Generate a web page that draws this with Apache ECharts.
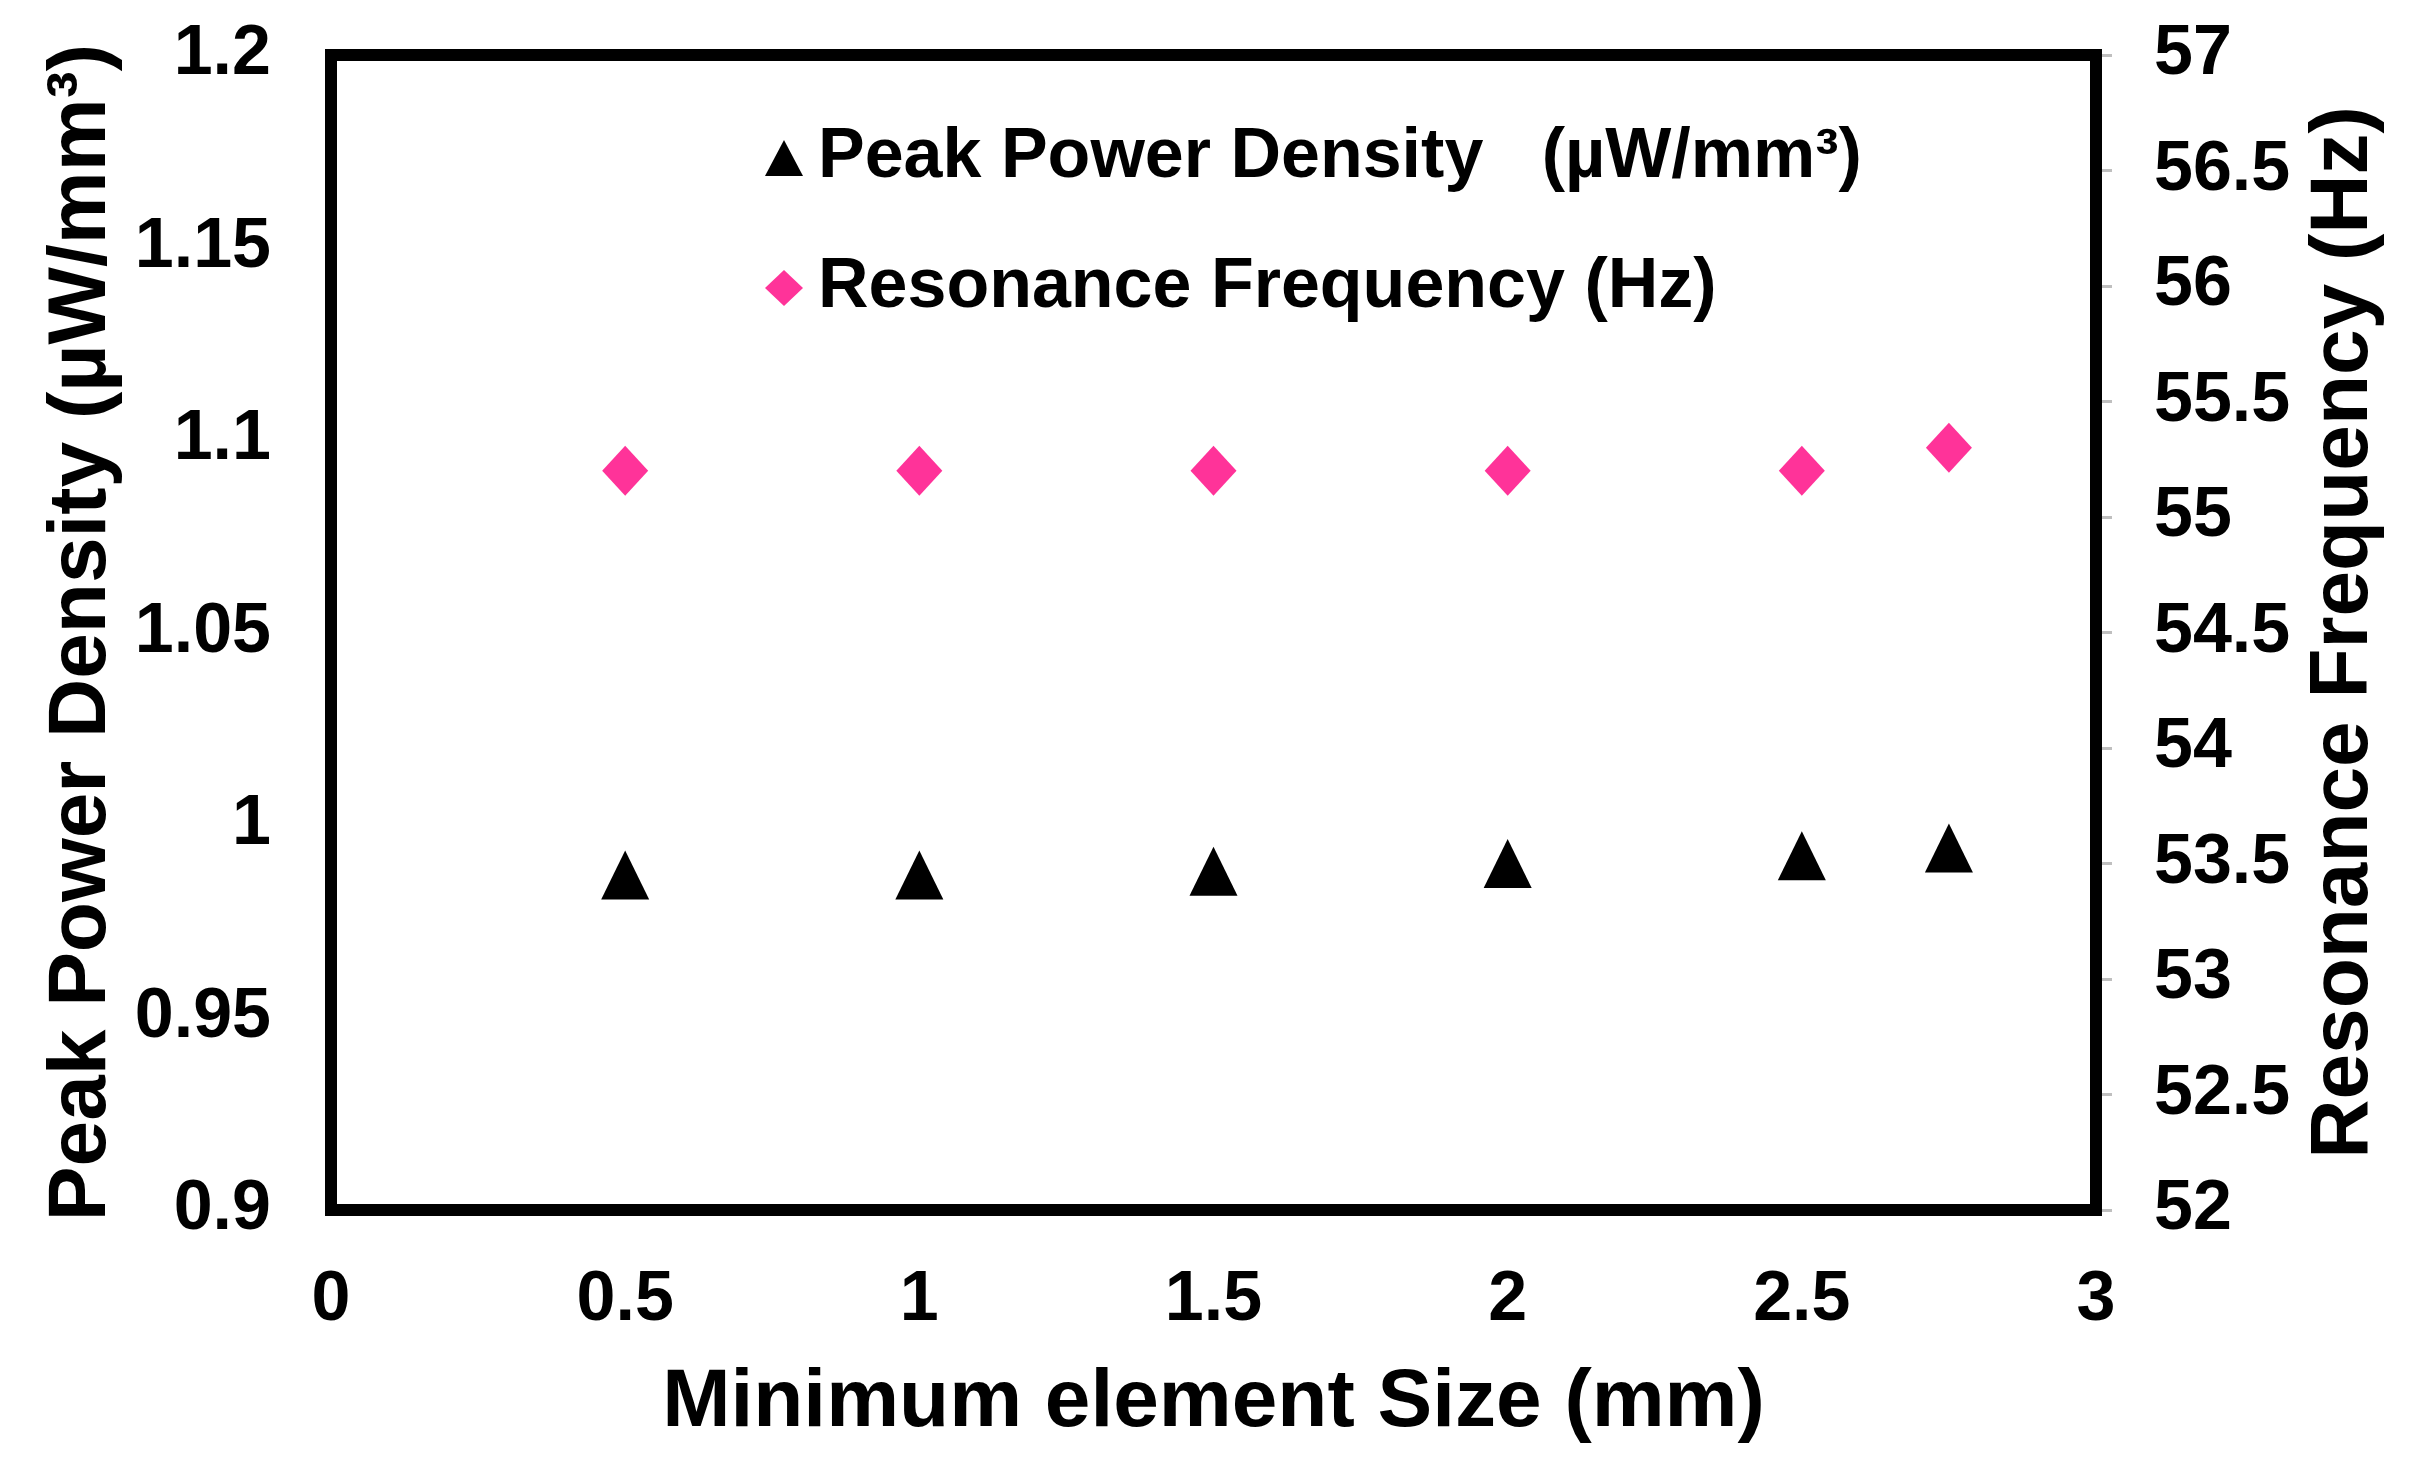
<!DOCTYPE html>
<html>
<head>
<meta charset="utf-8">
<script src="https://cdn.jsdelivr.net/npm/echarts@6/dist/echarts.min.js"></script>
<style>
html,body{margin:0;padding:0;background:#fff;}
#chart{width:2419px;height:1462px;}
</style>
</head>
<body>
<div id="chart"></div>
<script>
// ---- data ----
const xValues = [0.5, 1, 1.5, 2, 2.5, 2.75];
const powerDensity = [0.987, 0.987, 0.988, 0.990, 0.992, 0.994];
const resonanceFreq = [55.2, 55.2, 55.2, 55.2, 55.2, 55.3];
const seriesNames = ['Peak Power Density   (µW/mm³)', 'Resonance Frequency (Hz)'];
const xAxisTitle = 'Minimum element Size (mm)';
const leftAxisTitle = 'Peak Power Density (µW/mm³)';
const rightAxisTitle = 'Resonance Frequency (Hz)';

const FONT = "'Liberation Sans', Arial, Helvetica, sans-serif";
const chart = echarts.init(document.getElementById('chart'), null, {renderer: 'canvas'});

const pdData = xValues.map((x, i) => [x, powerDensity[i]]);
const rfData = xValues.map((x, i) => [x, resonanceFreq[i]]);

chart.setOption({
  backgroundColor: '#ffffff',
  animation: false,
  textStyle: {fontFamily: FONT},
  grid: {
    left: 331, right: 323, top: 55, bottom: 252,
    show: true, borderColor: '#000', borderWidth: 12, backgroundColor: 'transparent', z: 5
  },
  legend: {
    orient: 'vertical',
    left: 760, top: 118,
    itemWidth: 38, itemHeight: 36,
    itemGap: 60,
    itemStyle: {opacity: 1},
    textStyle: {fontFamily: FONT, fontWeight: 'bold', fontSize: 70, color: '#000', padding: [0, 0, 0, 10]},
    data: [
      {name: seriesNames[0], icon: 'triangle'},
      {name: seriesNames[1], icon: 'diamond'}
    ]
  },
  xAxis: {
    type: 'value', min: 0, max: 3, interval: 0.5,
    name: xAxisTitle, nameLocation: 'middle', nameGap: 152,
    nameTextStyle: {fontFamily: FONT, fontWeight: 'bold', fontSize: 82, color: '#000'},
    axisLine: {show: false}, axisTick: {show: false}, splitLine: {show: false},
    axisLabel: {fontFamily: FONT, fontWeight: 'bold', fontSize: 70, color: '#000', margin: 56}
  },
  yAxis: [
    {
      type: 'value', min: 0.9, max: 1.2, interval: 0.05, position: 'left',
      name: leftAxisTitle, nameLocation: 'middle', nameGap: 200, nameRotate: 90,
      nameTextStyle: {fontFamily: FONT, fontWeight: 'bold', fontSize: 82, color: '#000'},
      axisLine: {show: false}, axisTick: {show: false}, splitLine: {show: false},
      axisLabel: {fontFamily: FONT, fontWeight: 'bold', fontSize: 70, color: '#000', margin: 60}
    },
    {
      type: 'value', min: 52, max: 57, interval: 0.5, position: 'right',
      name: rightAxisTitle, nameLocation: 'middle', nameGap: 207, nameRotate: 90,
      nameTextStyle: {fontFamily: FONT, fontWeight: 'bold', fontSize: 82, color: '#000'},
      axisLine: {show: false},
      axisTick: {show: true, inside: false, length: 16, lineStyle: {color: '#BFBFBF', width: 3}},
      splitLine: {show: false},
      axisLabel: {fontFamily: FONT, fontWeight: 'bold', fontSize: 70, color: '#000', margin: 58}
    }
  ],
  series: [
    {
      name: seriesNames[0], type: 'scatter', yAxisIndex: 0,
      symbol: 'triangle', symbolSize: [48, 49],
      itemStyle: {color: '#000000', opacity: 1},
      data: pdData
    },
    {
      name: seriesNames[1], type: 'scatter', yAxisIndex: 1,
      symbol: 'diamond', symbolSize: [46, 50],
      itemStyle: {color: '#FF3399', opacity: 1},
      data: rfData
    }
  ]
});
</script>
</body>
</html>
